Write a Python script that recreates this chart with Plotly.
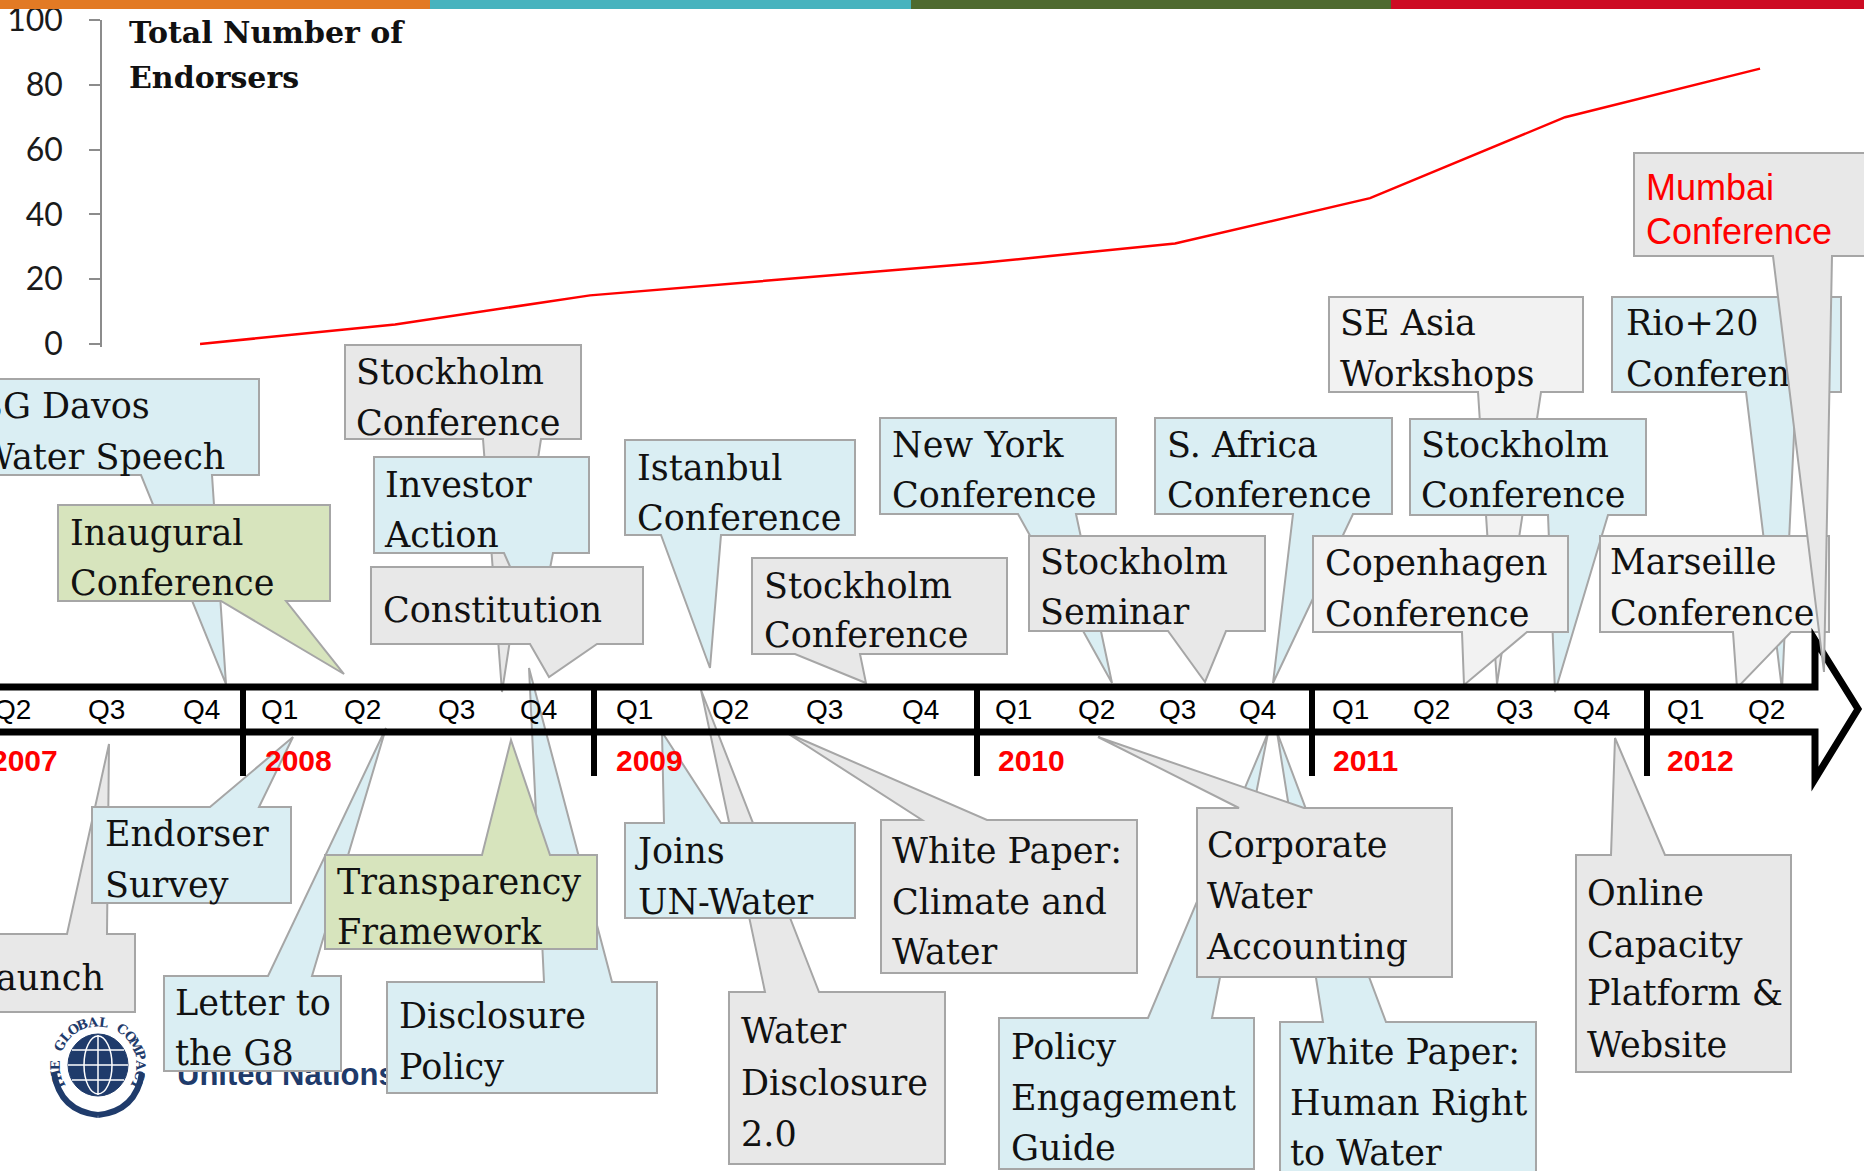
import math
import plotly.graph_objects as go

W, H = 1864, 1171

# ---------------- data ----------------
periods = ["Q4 2007", "Q2 2008", "Q4 2008", "Q2 2009", "Q4 2009",
           "Q2 2010", "Q4 2010", "Q2 2011", "Q4 2011"]
endorsers = [0, 6, 15, 20, 25, 31, 45, 70, 85]
y_ticks = [0, 20, 40, 60, 80, 100]
quarter_labels = ["Q2", "Q3", "Q4",
                  "Q1", "Q2", "Q3", "Q4",
                  "Q1", "Q2", "Q3", "Q4",
                  "Q1", "Q2", "Q3", "Q4",
                  "Q1", "Q2", "Q3", "Q4",
                  "Q1", "Q2"]
year_labels = ["2007", "2008", "2009", "2010", "2011", "2012"]
title_lines = ["Total Number of", "Endorsers"]
logo_ring_text = "THE GLOBAL COMPACT"
logo_name = "United Nations"

# ---------------- layout helpers ----------------
def px(x):
    return x / W

def py(y):
    return 1 - y / H

BLUE = "#DAEEF3"
GRAY = "#E8E8E8"
LGRAY = "#F2F2F2"
GREEN = "#D7E4BD"
BORDER = "#A6A6A6"
SERIF = dict(family="DejaVu Serif", size=35, color="#111111")

callouts = [
    dict(box=(-5, 259, 379, 475), side="bottom", base=(141, 212), tip=(226, 684), fill=BLUE,
         lines=["SG Davos", "Water Speech"], tx=-24, ty=[403, 454]),
    dict(box=(58, 330, 505, 601), side="bottom", base=(221, 286), tip=(344, 674), fill=GREEN,
         lines=["Inaugural", "Conference"], tx=67, ty=[530, 580]),
    dict(box=(345, 581, 345, 439), side="bottom", base=(483, 541), tip=(502, 692), fill=GRAY,
         lines=["Stockholm", "Conference"], tx=353, ty=[369, 420]),
    dict(box=(374, 589, 457, 553), side="bottom", base=(504, 553), tip=(538, 630), fill=BLUE,
         lines=["Investor", "Action"], tx=382, ty=[482, 532]),
    dict(box=(371, 643, 567, 644), side="bottom", base=(530, 597), tip=(549, 677), fill=GRAY,
         lines=["Constitution"], tx=380, ty=[607]),
    dict(box=(625, 855, 440, 535), side="bottom", base=(661, 721), tip=(710, 668), fill=BLUE,
         lines=["Istanbul", "Conference"], tx=634, ty=[465, 515]),
    dict(box=(752, 1007, 558, 654), side="bottom", base=(795, 860), tip=(866, 683), fill=GRAY,
         lines=["Stockholm", "Conference"], tx=761, ty=[583, 632]),
    dict(box=(880, 1116, 418, 514), side="bottom", base=(1018, 1076), tip=(1112, 683), fill=BLUE,
         lines=["New York", "Conference"], tx=889, ty=[442, 492]),
    dict(box=(1029, 1265, 536, 631), side="bottom", base=(1168, 1226), tip=(1205, 682), fill=GRAY,
         lines=["Stockholm", "Seminar"], tx=1037, ty=[559, 609]),
    dict(box=(1329, 1583, 297, 392), side="bottom", base=(1478, 1541), tip=(1497, 684), fill=LGRAY,
         lines=["SE Asia", "Workshops"], tx=1337, ty=[320, 371]),
    dict(box=(1410, 1646, 419, 515), side="bottom", base=(1548, 1608), tip=(1555, 692), fill=BLUE,
         lines=["Stockholm", "Conference"], tx=1418, ty=[442, 492]),
    dict(box=(1155, 1392, 418, 514), side="bottom", base=(1293, 1353), tip=(1273, 683), fill=BLUE,
         lines=["S. Africa", "Conference"], tx=1164, ty=[442, 492]),
    dict(box=(1313, 1568, 536, 632), side="bottom", base=(1462, 1527), tip=(1464, 685), fill=LGRAY,
         lines=["Copenhagen", "Conference"], tx=1322, ty=[560, 611]),
    dict(box=(1612, 1841, 297, 392), side="bottom", base=(1746, 1796), tip=(1782, 690), fill=BLUE,
         lines=["Rio+20", "Conference"], tx=1623, ty=[320, 371]),
    dict(box=(1600, 1829, 536, 632), side="bottom", base=(1733, 1791), tip=(1737, 688), fill=LGRAY,
         lines=["Marseille", "Conference"], tx=1607, ty=[559, 610]),
    dict(box=(-5, 135, 934, 1012), side="top", base=(67, 107), tip=(109, 744), fill=GRAY,
         lines=["Launch"], tx=107, ty=[975], anchor="right"),
    dict(box=(92, 291, 807, 903), side="top", base=(210, 259), tip=(293, 737), fill=BLUE,
         lines=["Endorser", "Survey"], tx=102, ty=[831, 882]),
    "LOGO",
    dict(box=(387, 657, 982, 1093), side="top", base=(544, 612), tip=(529, 668), fill=BLUE,
         lines=["Disclosure", "Policy"], tx=396, ty=[1013, 1064]),
    dict(box=(164, 341, 976, 1071), side="top", base=(268, 312), tip=(386, 728), fill=BLUE,
         lines=["Letter to", "the G8"], tx=172, ty=[1000, 1050]),
    dict(box=(325, 597, 855, 949), side="top", base=(482, 550), tip=(511, 740), fill=GREEN,
         lines=["Transparency", "Framework"], tx=334, ty=[879, 929]),
    dict(box=(729, 945, 992, 1164), side="top", base=(765, 819), tip=(701, 690), fill=GRAY,
         lines=["Water", "Disclosure", "2.0"], tx=738, ty=[1028, 1080, 1131]),
    dict(box=(625, 855, 823, 918), side="top", base=(664, 721), tip=(662, 732), fill=BLUE,
         lines=["Joins", "UN-Water"], tx=635, ty=[848, 899]),
    dict(box=(881, 1137, 820, 973), side="top", base=(922, 987), tip=(787, 733), fill=GRAY,
         lines=["White Paper:", "Climate and", "Water"], tx=889, ty=[848, 899, 949]),
    dict(box=(999, 1254, 1018, 1169), side="top", base=(1148, 1212), tip=(1268, 733), fill=BLUE,
         lines=["Policy", "Engagement", "Guide"], tx=1008, ty=[1044, 1095, 1145]),
    dict(box=(1280, 1536, 1022, 1185), side="top", base=(1323, 1386), tip=(1277, 732), fill=BLUE,
         lines=["White Paper:", "Human Right", "to Water"], tx=1287, ty=[1049, 1100, 1150]),
    dict(box=(1197, 1452, 808, 977), side="top", base=(1239, 1304), tip=(1098, 737), fill=GRAY,
         lines=["Corporate", "Water", "Accounting"], tx=1204, ty=[842, 893, 944]),
    dict(box=(1576, 1791, 855, 1072), side="top", base=(1611, 1665), tip=(1615, 738), fill=GRAY,
         lines=["Online", "Capacity", "Platform &", "Website"], tx=1584, ty=[890, 942, 990, 1042]),
]

mumbai = dict(box=(1634, 1875, 153, 256), side="bottom", base=(1773, 1832), tip=(1824, 672), fill=GRAY,
              lines=["Mumbai", "Conference"], tx=1643, ty=[184, 228],
              font=dict(family="Liberation Sans, Arial", size=36, color="#FF0000"))

quarter_x = [12, 106, 201, 279, 362, 456, 538, 634, 730, 824, 920,
             1014, 1096, 1177, 1257, 1350, 1431, 1514, 1591, 1685, 1766]
year_x = [-11, 263, 614, 996, 1331, 1665]
divider_x = [243, 594, 977, 1312, 1647]


def pt(x, y):
    return f"{px(x):.5f},{py(y):.5f}"


def path_from(pts, close=True):
    s = "M " + " L ".join(pt(x, y) for x, y in pts)
    return s + (" Z" if close else "")


def callout_shapes(c):
    x0, x1, y0, y1 = c["box"]
    b1, b2 = c["base"]
    tx, ty = c["tip"]
    if c["side"] == "bottom":
        pts = [(x0, y0), (x1, y0), (x1, y1), (b2, y1), (tx, ty), (b1, y1), (x0, y1)]
    else:
        pts = [(x0, y0), (b1, y0), (tx, ty), (b2, y0), (x1, y0), (x1, y1), (x0, y1)]
    out = [dict(type="path", xref="paper", yref="paper", path=path_from(pts),
                fillcolor=c["fill"], line=dict(color=BORDER, width=2), layer="above")]
    font = c.get("font", SERIF)
    anchor = c.get("anchor", "left")
    for text, yc in zip(c["lines"], c["ty"]):
        if anchor == "left":
            xa, xb, pos = c["tx"], c["tx"] + 1, "middle left"
        else:
            xa, xb, pos = c["tx"] - 1, c["tx"], "middle right"
        out.append(dict(type="rect", xref="paper", yref="paper",
                        x0=px(xa), x1=px(xb), y0=py(yc + 0.5), y1=py(yc - 0.5),
                        line=dict(width=0), fillcolor="rgba(0,0,0,0)", layer="above",
                        label=dict(text=text, font=font, textposition=pos,
                                   xanchor=anchor, yanchor="middle", padding=0)))
    return out


NAVY = "#1F3B6B"
LOGO_C = (98, 1065)


def logo_shapes():
    cx, cy = LOGO_C
    out = []
    out.append(dict(type="circle", xref="paper", yref="paper", x0=px(cx - 30), x1=px(cx + 30),
                    y0=py(cy + 31), y1=py(cy - 31), fillcolor=NAVY, line=dict(color=NAVY, width=1)))
    out.append(dict(type="circle", xref="paper", yref="paper", x0=px(cx - 14), x1=px(cx + 14),
                    y0=py(cy + 29), y1=py(cy - 29), fillcolor="rgba(0,0,0,0)",
                    line=dict(color="white", width=1.5)))
    for dy, half in ((-15, 26), (0, 30), (15, 26)):
        out.append(dict(type="line", xref="paper", yref="paper", x0=px(cx - half), x1=px(cx + half),
                        y0=py(cy + dy), y1=py(cy + dy), line=dict(color="white", width=1.5)))
    out.append(dict(type="line", xref="paper", yref="paper", x0=px(cx), x1=px(cx),
                    y0=py(cy - 30), y1=py(cy + 30), line=dict(color="white", width=1.5)))
    for side in (-1, 1):
        p = f"M {pt(cx + side * 44, cy + 8)} Q {pt(cx + side * 38, cy + 46)} {pt(cx, cy + 50)}"
        out.append(dict(type="path", xref="paper", yref="paper", path=p,
                        line=dict(color=NAVY, width=6), fillcolor="rgba(0,0,0,0)"))
    out.append(dict(type="rect", xref="paper", yref="paper", x0=px(174), x1=px(175),
                    y0=py(1072), y1=py(1071), line=dict(width=0), fillcolor="rgba(0,0,0,0)",
                    label=dict(text=f"<b>{logo_name}</b>",
                               font=dict(family="Liberation Sans, Arial", size=31, color=NAVY),
                               textposition="middle left", xanchor="left", yanchor="middle", padding=0)))
    return out


shapes = []
band = [(0, 430, "#E27A24"), (430, 911, "#47B3BE"), (911, 1391, "#4E6A2F"), (1391, 1864, "#CD0B23")]
for a, b, col in band:
    shapes.append(dict(type="rect", xref="paper", yref="paper", x0=px(a), x1=px(b),
                       y0=py(9), y1=1, fillcolor=col, line=dict(width=0), layer="above"))

for c in callouts:
    if c == "LOGO":
        shapes += logo_shapes()
    else:
        shapes += callout_shapes(c)

shapes.append(dict(type="path", xref="paper", yref="paper",
                   path=path_from([(-10, 687), (1815, 687), (1815, 640), (1858, 709),
                                   (1815, 779), (1815, 732), (-10, 732)], close=False),
                   fillcolor="rgba(0,0,0,0)", line=dict(color="black", width=7), layer="above"))
for dx in divider_x:
    shapes.append(dict(type="line", xref="paper", yref="paper", x0=px(dx), x1=px(dx),
                       y0=py(687), y1=py(776), line=dict(color="black", width=6), layer="above"))

shapes += callout_shapes(mumbai)

annotations = []
for i, t in enumerate(title_lines):
    annotations.append(dict(xref="paper", yref="paper", x=px(127), y=py([33, 78][i]),
                            xanchor="left", yanchor="middle", showarrow=False,
                            text=f"<b>{t}</b>",
                            font=dict(family="DejaVu Serif", size=30, color="#111111")))
for q, qx in zip(quarter_labels, quarter_x):
    annotations.append(dict(xref="paper", yref="paper", x=px(qx), y=py(709),
                            xanchor="center", yanchor="middle", showarrow=False, text=q,
                            font=dict(family="Liberation Sans, Arial", size=28, color="black")))
for yl, yx in zip(year_labels, year_x):
    annotations.append(dict(xref="paper", yref="paper", x=px(yx), y=py(760),
                            xanchor="left", yanchor="middle", showarrow=False, text=f"<b>{yl}</b>",
                            font=dict(family="Liberation Sans, Arial", size=30, color="#FF0000")))
n = len(logo_ring_text)
a_start, a_end, r = 208.0, -28.0, 43
for i, ch in enumerate(logo_ring_text):
    if ch == " ":
        continue
    ang = a_start + (a_end - a_start) * i / (n - 1)
    rad = math.radians(ang)
    x = LOGO_C[0] + r * math.cos(rad)
    y = LOGO_C[1] - r * math.sin(rad)
    annotations.append(dict(xref="paper", yref="paper", x=px(x), y=py(y), showarrow=False,
                            xanchor="center", yanchor="middle", text=f"<b>{ch}</b>",
                            textangle=90 - ang,
                            font=dict(family="DejaVu Serif", size=13, color=NAVY)))

fig = go.Figure()
fig.add_trace(go.Scatter(x=periods, y=endorsers, mode="lines",
                         line=dict(color="#FF0000", width=2.5), hoverinfo="skip", showlegend=False))

fig.update_layout(
    width=W, height=H, autosize=False,
    margin=dict(l=0, r=0, t=0, b=0, autoexpand=False),
    paper_bgcolor="white", plot_bgcolor="rgba(0,0,0,0)",
    xaxis=dict(type="category", domain=[102 / W, 1], range=[-0.5026, 8.533], visible=False,
               fixedrange=True, automargin=False),
    yaxis=dict(domain=[1 - 347.2 / H, 1 - 20 / H], range=[-1, 100], tickvals=y_ticks,
               showline=True, linecolor="#8C8C8C", linewidth=1.5, ticks="outside",
               ticklen=11, tickwidth=1.5, tickcolor="#8C8C8C", showgrid=False, zeroline=False,
               tickfont=dict(family="Lato", size=32, color="#1a1a1a"), ticklabelstandoff=20,
               ticklabeloverflow="allow", fixedrange=True, automargin=False),
    shapes=shapes,
    annotations=annotations,
    showlegend=False,
)

fig.write_html("out.html", config={"displayModeBar": False},
               post_script="document.body.style.margin='0';document.body.style.overflow='hidden';")
